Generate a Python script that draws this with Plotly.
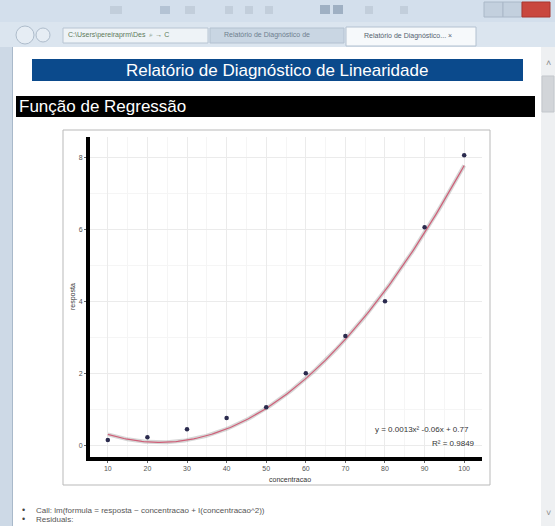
import numpy as np
import plotly.graph_objects as go

W, H = 555, 526

# Data: concentration levels and measured response
concentracao = [10, 20, 30, 40, 50, 60, 70, 80, 90, 100]
resposta = [0.14, 0.22, 0.44, 0.75, 1.05, 2.0, 3.03, 4.0, 6.05, 8.05]

# Quadratic fit y = a*x^2 + b*x + c and its R²
coef_a, coef_b, coef_c = 0.0013, -0.06, 0.77
r2_text = "0.9849"

x_ticks = [10, 20, 30, 40, 50, 60, 70, 80, 90, 100]
y_ticks = [0, 2, 4, 6, 8]

FONT = "Liberation Sans, Arial, sans-serif"


def px(x):
    return x / W


def py(y):
    return 1 - y / H


def rect(x0, y0, x1, y1, fill, line=None, lw=0, layer="below"):
    return dict(type="rect", xref="paper", yref="paper",
                x0=px(x0), x1=px(x1), y0=py(y1), y1=py(y0),
                fillcolor=fill, line=dict(color=line or fill, width=lw),
                layer=layer)


def label(x, y, text, size, color, xa="left", ya="middle", **kw):
    return dict(x=px(x), y=py(y), xref="paper", yref="paper", text=text,
                showarrow=False, xanchor=xa, yanchor=ya,
                font=dict(family=FONT, size=size, color=color), **kw)


xs = np.linspace(min(concentracao), max(concentracao), 200)
ys = coef_a * xs ** 2 + coef_b * xs + coef_c

fig = go.Figure()

# smoothing ribbon under the fitted curve
fig.add_trace(go.Scatter(x=xs, y=ys, mode="lines",
                         line=dict(color="rgba(120,120,120,0.30)", width=4),
                         hoverinfo="skip", showlegend=False))
fig.add_trace(go.Scatter(x=xs, y=ys, mode="lines",
                         line=dict(color="#cf5f78", width=1.2),
                         showlegend=False))
fig.add_trace(go.Scatter(x=concentracao, y=resposta, mode="markers",
                         marker=dict(color="#2b2b4e", size=4.5),
                         showlegend=False))

shapes = [
    # browser chrome
    rect(0, 0, 555, 47, "#dbe5ef"),
    rect(0, 0, 555, 22, "#d3dfec"),
    rect(110, 6, 122, 14, "#c2cedb"),
    rect(160, 6, 170, 14, "#b4c3d4"),
    rect(185, 6, 195, 14, "#c2cedb"),
    rect(225, 6, 233, 14, "#c2cedb"),
    rect(245, 6, 253, 14, "#c2cedb"),
    rect(265, 6, 273, 14, "#c2cedb"),
    rect(320, 5, 330, 14, "#9fb0c3"),
    rect(333, 5, 343, 14, "#9fb0c3"),
    rect(365, 6, 373, 14, "#c2cedb"),
    rect(400, 6, 408, 14, "#c2cedb"),
    rect(484, 2, 503, 17, "#c3d0de", "#aab8c8", 1),
    rect(503, 2, 522, 17, "#c3d0de", "#aab8c8", 1),
    rect(522, 2, 550, 17, "#c9473e", "#a8362f", 1),
    dict(type="circle", xref="paper", yref="paper", x0=px(16), x1=px(34),
         y0=py(44), y1=py(26), fillcolor="#e6edf4",
         line=dict(color="#aebccb", width=1), layer="below"),
    dict(type="circle", xref="paper", yref="paper", x0=px(36), x1=px(50),
         y0=py(42), y1=py(28), fillcolor="#e6edf4",
         line=dict(color="#aebccb", width=1), layer="below"),
    rect(63, 28, 208, 43, "#eef3f7", "#b7c4d2", 1),
    rect(210, 28, 344, 43, "#c9d6e3", "#b3c1d0", 1),
    rect(346, 27, 476, 46, "#f6f9fb", "#b3c1d0", 1),
    # page area
    rect(0, 47, 555, 526, "#ffffff"),
    rect(0, 47, 12, 526, "#cdd9e6"),
    rect(12, 47, 13, 526, "#a9b9ca"),
    rect(541, 47, 555, 526, "#eef0f2"),
    rect(542, 76, 554, 112, "#d2d5d9", "#c3c7cc", 1),
    # report headers
    rect(32, 59, 523, 81, "#0b4a8c"),
    rect(16, 96, 535, 117, "#000000"),
    # chart frame
    rect(63, 130, 490, 485, "#ffffff", "#b9b9b9", 1),
]

annotations = [
    label(66, 35, "C:\\Users\\pereiraprm\\Des  \u2315 \u2192 C", 7, "#5d7a5a"),
    label(222, 35, "Relatório de Diagnóstico de", 7, "#6f7f8f"),
    label(362, 36, "Relatório de Diagnóstico... \u00d7", 7, "#55626f"),
    label(548, 63, "\u02c4", 9, "#8a8a8a", xa="center"),
    label(548, 513, "\u02c5", 9, "#8a8a8a", xa="center"),
    label(277, 70, "Relatório de Diagnóstico de Linearidade", 17, "#ffffff",
          xa="center"),
    label(17, 106, "Função de Regressão", 17, "#ffffff"),
    # fit annotation
    label(471, 429, "y = %.4fx\u00b2 %.2fx + %.2f" % (coef_a, coef_b, coef_c),
          8, "#333333", xa="right"),
    label(477, 443, "R\u00b2 = " + r2_text, 8, "#333333", xa="right"),
    # axis titles
    label(290, 479, "concentracao", 7, "#333333", xa="center"),
    label(73, 297, "resposta", 7, "#333333", xa="center", textangle=-90),
    # notes under the chart
    label(20, 510, "\u2022", 9, "#444444"),
    label(34, 510, "Call: lm(formula = resposta ~ concentracao + I(concentracao^2))",
          8, "#555555"),
    label(20, 519, "\u2022", 9, "#444444"),
    label(34, 519, "Residuals:", 8, "#555555"),
]

fig.update_layout(
    width=W, height=H, autosize=False,
    margin=dict(l=0, r=0, t=0, b=0),
    paper_bgcolor="#ffffff", plot_bgcolor="#ffffff",
    shapes=shapes, annotations=annotations,
    xaxis=dict(domain=[px(90), px(482)], range=[5.5, 104.5],
               tickvals=x_ticks, ticks="outside", ticklen=2,
               tickcolor="#666666",
               tickfont=dict(family=FONT, size=7, color="#555555"),
               showline=True, linecolor="#000000", linewidth=4,
               showgrid=True, gridcolor="#ebebeb", gridwidth=1,
               minor=dict(tickvals=[15, 25, 35, 45, 55, 65, 75, 85, 95],
                          showgrid=True, gridcolor="#f5f5f5"),
               zeroline=False, fixedrange=True),
    yaxis=dict(domain=[py(457), py(137)], range=[-0.33, 8.56],
               tickvals=y_ticks, ticks="outside", ticklen=2,
               tickcolor="#666666",
               tickfont=dict(family=FONT, size=7, color="#555555"),
               showline=True, linecolor="#000000", linewidth=4,
               showgrid=True, gridcolor="#ebebeb", gridwidth=1,
               minor=dict(tickvals=[1, 3, 5, 7],
                          showgrid=True, gridcolor="#f5f5f5"),
               zeroline=False, fixedrange=True),
)

fig.write_html("out.html")
